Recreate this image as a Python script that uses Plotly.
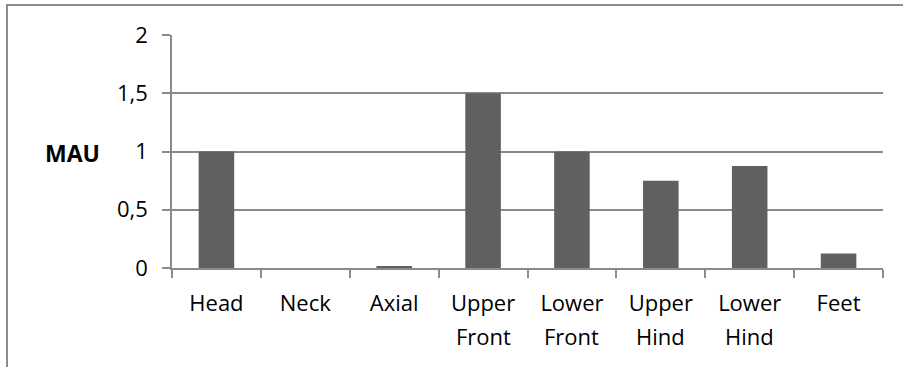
import plotly.graph_objects as go

# MAU per skeletal element group
categories = ["Head", "Neck", "Axial", "Upper Front", "Lower Front",
              "Upper Hind", "Lower Hind", "Feet"]
label_line1 = ["Head", "Neck", "Axial", "Upper", "Lower", "Upper", "Lower", "Feet"]
label_line2 = ["", "", "", "Front", "Front", "Hind", "Hind", ""]
mau_values = [1.0, 0.0, 0.017, 1.5, 1.0, 0.75, 0.875, 0.125]
y_tick_values = [0, 0.5, 1, 1.5, 2]
y_tick_labels = ["0", "0,5", "1", "1,5", "2"]

W, H = 903, 367
ML, MR, MT, MB = 172, 20, 35, 99
PW, PH = W - ML - MR, H - MT - MB

FONT = "Open Sans"
FS = 22
GRID = "#8a8a8a"

fig = go.Figure(
    go.Bar(
        x=categories,
        y=mau_values,
        marker=dict(color="#606060", line=dict(width=0)),
        width=0.4,
    )
)

fig.update_layout(
    width=W,
    height=H,
    margin=dict(l=ML, r=MR, t=MT, b=MB, pad=0),
    paper_bgcolor="white",
    plot_bgcolor="white",
    showlegend=False,
    font=dict(family=FONT, size=FS, color="black"),
)

fig.update_xaxes(
    type="category",
    tickvals=categories,
    ticktext=label_line1,
    showgrid=False,
    showline=True,
    linecolor=GRID,
    linewidth=1.5,
    ticks="outside",
    ticklen=8,
    tickwidth=1.5,
    tickcolor=GRID,
    tickson="boundaries",
    tickfont=dict(family=FONT, size=FS, color="black"),
    ticklabelstandoff=15,
)

fig.update_yaxes(
    range=[0, 2],
    tickvals=y_tick_values,
    ticktext=y_tick_labels,
    showgrid=True,
    gridcolor=GRID,
    gridwidth=1.5,
    showline=True,
    linecolor=GRID,
    linewidth=1.5,
    ticks="outside",
    ticklen=8,
    tickwidth=1.5,
    tickcolor=GRID,
    tickfont=dict(family=FONT, size=FS, color="black"),
    ticklabelstandoff=10,
    zeroline=False,
)

# Second line of the two-word category labels
for cat, line2 in zip(categories, label_line2):
    if line2:
        fig.add_annotation(
            text=line2,
            xref="x", yref="paper",
            x=cat, y=-(336 - MT - PH) / PH,
            xanchor="center", yanchor="middle",
            showarrow=False,
            font=dict(family=FONT, size=FS, color="black"),
        )

# Axis title placed horizontally to the left of the value labels
fig.add_annotation(
    text="<b>MAU</b>",
    xref="paper", yref="paper",
    x=(72 - ML) / PW, y=(MT + PH - 153) / PH,
    xanchor="center", yanchor="middle",
    showarrow=False,
    font=dict(family=FONT, size=23, color="black"),
)

# Chart-area border (right and bottom edges fall outside the page)
fig.add_shape(
    type="rect",
    xref="paper", yref="paper",
    x0=(7 - ML) / PW, x1=(W + 20 - ML) / PW,
    y0=-(H + 20 - MT - PH) / PH, y1=(MT - 5 + PH) / PH,
    line=dict(color="#8c8c8c", width=2),
    layer="below",
)

fig.write_html("out.html")
